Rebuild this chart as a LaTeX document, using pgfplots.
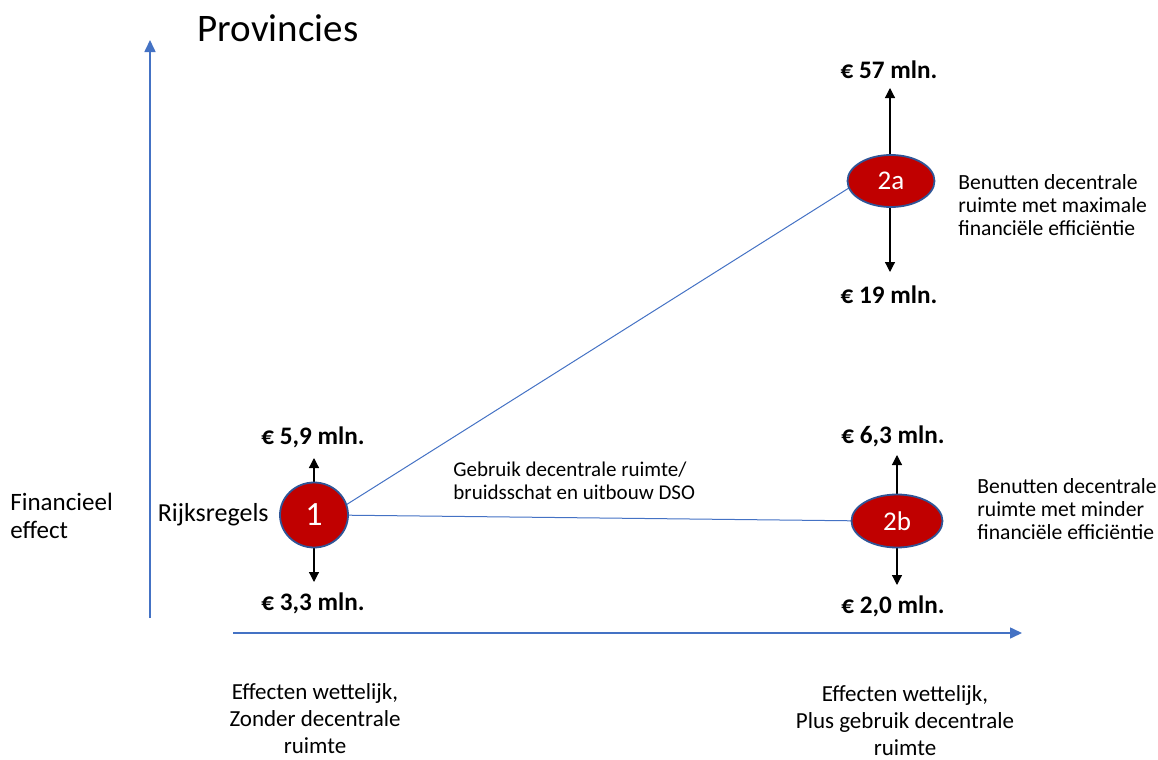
\documentclass[border=0pt]{standalone}
\usepackage{fontspec}
\setmainfont{Carlito}
\usepackage{pgfplots}
\pgfplotsset{compat=1.18}
\usetikzlibrary{arrows.meta,shapes.geometric}
\definecolor{axblue}{HTML}{4472C4}
\definecolor{dotred}{HTML}{C00000}
\definecolor{dotedge}{HTML}{2F5597}
\begin{document}
\begin{tikzpicture}
\begin{axis}[width=579pt,height=380pt,scale only axis,
  xmin=0,xmax=1158,ymin=0,ymax=760,y dir=reverse,
  hide axis,clip=false]
\addplot[draw=none] coordinates {(0,0) (1158,760)};
% axes
\addplot[axblue, line width=0.8pt, -{Triangle[length=6pt,width=5.5pt]}] coordinates {(150,618) (150,40)};
\addplot[axblue, line width=0.8pt, -{Triangle[length=6pt,width=5.5pt]}] coordinates {(233,633) (1022,633)};
% connectors
\addplot[axblue, line width=0.5pt] coordinates {(330,515) (860,181)};
\addplot[axblue, line width=0.5pt] coordinates {(330,515) (870,521)};
% value arrows
\addplot[black, line width=0.6pt, -{Triangle[length=5pt,width=5pt]}] coordinates {(314,500) (314,458)};
\addplot[black, line width=0.6pt, -{Triangle[length=5pt,width=5pt]}] coordinates {(314,530) (314,582)};
\addplot[black, line width=0.6pt, -{Triangle[length=5pt,width=5pt]}] coordinates {(890,170) (890,88)};
\addplot[black, line width=0.6pt, -{Triangle[length=5pt,width=5pt]}] coordinates {(890,190) (890,272)};
\addplot[black, line width=0.6pt, -{Triangle[length=5pt,width=5pt]}] coordinates {(897,510) (897,455)};
\addplot[black, line width=0.6pt, -{Triangle[length=5pt,width=5pt]}] coordinates {(897,530) (897,585)};
% circles
\addplot[draw=none, mark=none, nodes near coords, point meta=explicit symbolic,
  every node near coord/.append style={anchor=center, ellipse, inner sep=0pt,
  minimum width=34pt, minimum height=32.5pt, fill=dotred, draw=dotedge,
  line width=0.9pt, text=white, font=\fontsize{17}{17}\selectfont}]
  coordinates {(314,515) [1]};
\addplot[draw=none, mark=none, nodes near coords, point meta=explicit symbolic,
  every node near coord/.append style={anchor=center, ellipse, inner sep=0pt,
  minimum width=43.5pt, minimum height=26pt, fill=dotred, draw=dotedge,
  line width=0.9pt, text=white, font=\fontsize{13.5}{13.5}\selectfont}]
  coordinates {(891,181) [2a]};
\addplot[draw=none, mark=none, nodes near coords, point meta=explicit symbolic,
  every node near coord/.append style={anchor=center, ellipse, inner sep=0pt,
  minimum width=45.5pt, minimum height=26.5pt, fill=dotred, draw=dotedge,
  line width=0.9pt, text=white, font=\fontsize{13.5}{13.5}\selectfont}]
  coordinates {(897,521) [2b]};
% texts
\node[font=\fontsize{19.5}{21}\selectfont, anchor=center] at (axis cs:278,28) {Provincies};
\node[font=\fontsize{12.5}{14}\selectfont, anchor=west, align=left, inner sep=0pt] at (axis cs:10,516) {Financieel\\effect};
\node[font=\fontsize{13}{14}\selectfont, anchor=east, inner sep=0pt] at (axis cs:269,515) {Rijksregels};
\node[font=\bfseries\fontsize{12.6}{14}\selectfont] at (axis cs:313,437) {€ 5,9 mln.};
\node[font=\bfseries\fontsize{12.6}{14}\selectfont] at (axis cs:313,603) {€ 3,3 mln.};
\node[font=\bfseries\fontsize{12.6}{14}\selectfont] at (axis cs:889,70) {€ 57 mln.};
\node[font=\bfseries\fontsize{12.6}{14}\selectfont] at (axis cs:889,295) {€ 19 mln.};
\node[font=\bfseries\fontsize{12.6}{14}\selectfont] at (axis cs:893,436) {€ 6,3 mln.};
\node[font=\bfseries\fontsize{12.6}{14}\selectfont] at (axis cs:893,606) {€ 2,0 mln.};
\node[font=\fontsize{10.5}{11.5}\selectfont, anchor=west, align=left, inner sep=0pt] at (axis cs:453,481) {Gebruik decentrale ruimte/\\bruidsschat en uitbouw DSO};
\node[font=\fontsize{10.8}{11.5}\selectfont, anchor=west, align=left, inner sep=0pt] at (axis cs:958,205) {Benutten decentrale\\ruimte met maximale\\financiële efficiëntie};
\node[font=\fontsize{10.8}{11.5}\selectfont, anchor=west, align=left, inner sep=0pt] at (axis cs:977,509) {Benutten decentrale\\ruimte met minder\\financiële efficiëntie};
\node[font=\fontsize{11.5}{13.5}\selectfont, align=center, inner sep=0pt] at (axis cs:315,719) {Effecten wettelijk,\\Zonder decentrale\\ruimte};
\node[font=\fontsize{11.5}{13.5}\selectfont, align=center, inner sep=0pt] at (axis cs:905,721) {Effecten wettelijk,\\Plus gebruik decentrale\\ruimte};
\end{axis}
\end{tikzpicture}
\end{document}
